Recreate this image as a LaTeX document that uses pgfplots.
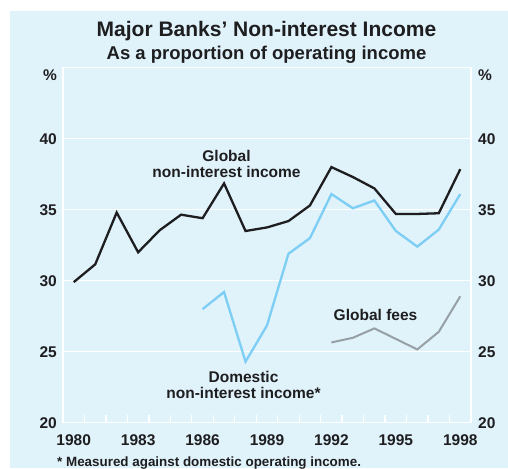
\documentclass[border=0pt]{standalone}
\usepackage{pgfplots}
\pgfplotsset{compat=1.18}
\usepackage{fontspec}
\setmainfont{Liberation Sans}

\definecolor{panel}{RGB}{224,242,250}
\definecolor{globalc}{RGB}{30,30,32}
\definecolor{domc}{RGB}{125,206,245}
\definecolor{feesc}{RGB}{150,160,165}

\newcommand{\tfont}[1]{\fontsize{#1}{#1}\selectfont\bfseries}

\begin{document}
\begin{tikzpicture}
\useasboundingbox (-63pt,-45.3pt) rectangle (445pt,422.7pt);
\fill[panel] (-53pt,-45.3pt) rectangle (445pt,411.7pt);

\begin{axis}[
    scale only axis,
    width=408pt, height=355pt,
    at={(0,0)}, anchor=south west,
    xmin=1979.5, xmax=1998.5,
    ymin=20, ymax=45,
    xtick={1980,1983,...,1998},
    xticklabels={1980,1983,1986,1989,1992,1995,1998},
    ytick={20,25,...,40},
    yticklabels={20,25,30,35,40},
    major tick length=0pt,
    xtick pos=bottom,
    extra x ticks={1980.5,1981.5,...,1997.5},
    extra x tick labels={},
    extra x tick style={major tick length=8pt, tick style={white, line width=1.3pt}, xmajorgrids=false},
    ymajorgrids=true,
    grid style={white, line width=1.4pt},
    axis line style={white, line width=1.4pt},
    ticklabel style={font=\tfont{15.5}, text=globalc},
    xticklabel style={anchor=base, yshift=-23pt, inner sep=0pt},
    yticklabel style={anchor=east, xshift=-6pt, inner sep=0pt},
]
\addplot[globalc, line width=2.3pt] coordinates {
 (1980,29.9) (1981,31.15) (1982,34.8) (1983,32.0) (1984,33.55) (1985,34.65)
 (1986,34.4) (1987,36.85) (1988,33.5) (1989,33.75) (1990,34.2) (1991,35.3)
 (1992,38.0) (1993,37.3) (1994,36.5) (1995,34.7) (1996,34.7) (1997,34.75)
 (1998,37.85)};
\addplot[domc, line width=2.3pt] coordinates {
 (1986,28.0) (1987,29.2) (1988,24.3) (1989,26.85) (1990,31.9) (1991,33.0)
 (1992,36.1) (1993,35.1) (1994,35.65) (1995,33.5) (1996,32.4) (1997,33.6)
 (1998,36.1)};
\addplot[feesc, line width=2pt] coordinates {
 (1992,25.65) (1993,25.98) (1994,26.64) (1995,25.9) (1996,25.16) (1997,26.4)
 (1998,28.9)};
\end{axis}

\begin{axis}[
    scale only axis,
    width=408pt, height=355pt,
    at={(0,0)}, anchor=south west,
    xmin=1979.5, xmax=1998.5,
    ymin=20, ymax=45,
    xtick=\empty,
    ytick={20,25,...,40},
    yticklabels={20,25,30,35,40},
    major tick length=0pt,
    yticklabel pos=right,
    axis line style={draw=none},
    ticklabel style={font=\tfont{15.5}, text=globalc},
    yticklabel style={anchor=west, xshift=7pt, inner sep=0pt},
]
\end{axis}

\node[anchor=base, text=globalc, font=\tfont{21}] at (203.5pt,385.7pt) {Major Banks’ Non-interest Income};
\node[anchor=base, text=globalc, font=\tfont{18.5}] at (203.5pt,362.7pt) {As a proportion of operating income};

\node[anchor=base east, inner sep=0pt, text=globalc, font=\tfont{15.5}] at (-6pt,341.7pt) {\%};
\node[anchor=base west, inner sep=0pt, text=globalc, font=\tfont{15.5}] at (415pt,341.7pt) {\%};

\node[anchor=base, inner sep=0pt, text=globalc, font=\tfont{15.5}] at (163.5pt,261pt) {Global};
\node[anchor=base, inner sep=0pt, text=globalc, font=\tfont{15.5}] at (163.5pt,245.4pt) {non-interest income};
\node[anchor=base, inner sep=0pt, text=globalc, font=\tfont{15.5}] at (180.5pt,39.7pt) {Domestic};
\node[anchor=base, inner sep=0pt, text=globalc, font=\tfont{15.5}] at (180.5pt,24.4pt) {non-interest income*};
\node[anchor=base, inner sep=0pt, text=globalc, font=\tfont{15.5}] at (312.5pt,102pt) {Global fees};

\node[anchor=base west, inner sep=0pt, text=globalc, font=\tfont{13.4}] at (-6pt,-43.8pt) {* Measured against domestic operating income.};
\end{tikzpicture}
\end{document}
